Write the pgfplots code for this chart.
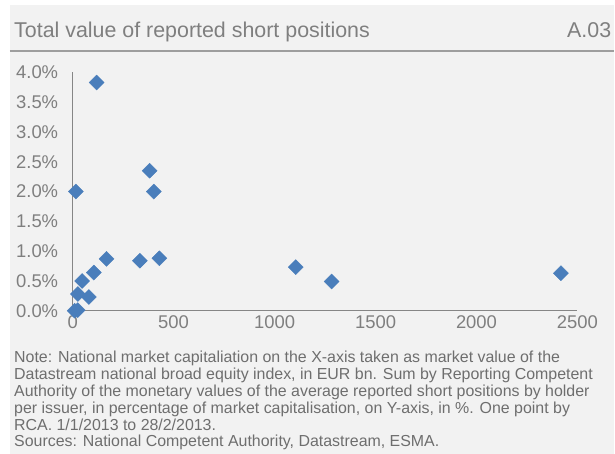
\documentclass[border=0pt]{standalone}
\usepackage{pgfplots}
\pgfplotsset{compat=1.18}
\usepackage{fontspec}
\setmainfont{Liberation Sans}
\definecolor{bgc}{HTML}{F2F2F2}
\definecolor{txt}{HTML}{7F7F7F}
\definecolor{note}{HTML}{6E6E6E}
\definecolor{axc}{HTML}{868686}
\definecolor{mk}{HTML}{4A7EBB}
\begin{document}
\begin{tikzpicture}[x=1bp,y=1bp]
\fill[white] (0,0) rectangle (615,454);
\fill[bgc] (10,0) rectangle (615,449);
\draw[color=axc!80, line width=1.2bp] (10,403) -- (615,403);
\node[anchor=base west, inner sep=0, text=txt, font=\fontsize{21.5}{25}\selectfont] at (14,416) {Total value of reported short positions};
\node[anchor=base east, inner sep=0, text=txt, font=\fontsize{21.5}{25}\selectfont] at (612,416) {A.03};
\begin{axis}[
  at={(72.7bp,143bp)}, anchor=south west,
  scale only axis, width=505.3bp, height=238.5bp,
  xmin=0, xmax=2500, ymin=0, ymax=4,
  axis lines=left, axis line style={-, color=axc, line width=1.5bp},
  xtick={0,500,1000,1500,2000,2500},
  ytick={0,0.5,1,1.5,2,2.5,3,3.5,4},
  yticklabels={0.0\%,0.5\%,1.0\%,1.5\%,2.0\%,2.5\%,3.0\%,3.5\%,4.0\%},
  major tick length=0pt,
  tick label style={text=txt, font=\fontsize{18.5}{20}\selectfont},
  yticklabel style={xshift=-11bp},
  xticklabel style={yshift=-1bp},
  /pgf/number format/assume math mode=true,
  /pgf/number format/1000 sep={},
  scaled x ticks=false,
  clip=false,
]
\addplot[only marks, mark=square*, mark size=5.3bp, mark options={rotate=45, fill=mk, draw=mk}] coordinates {
(10,0.0) (25,0.01) (16,2.00) (119,3.83) (381,2.35) (402,2.00)
(168,0.87) (333,0.84) (430,0.88) (105,0.64) (47,0.50) (26,0.28)
(80,0.23) (1105,0.73) (1283,0.49) (2418,0.63)
};
\end{axis}
\node[anchor=north west, inner sep=0, text=note, align=left, font=\fontsize{16}{17}\selectfont] at (14,103) {Note: National market capitaliation on the X-axis taken as market value of the\\Datastream national broad equity index, in EUR bn. Sum by Reporting Competent\\Authority of the monetary values of the average reported short positions by holder\\per issuer, in percentage of market capitalisation, on Y-axis, in \%. One point by\\RCA. 1/1/2013 to 28/2/2013.\\Sources: National Competent Authority, Datastream, ESMA.};
\end{tikzpicture}
\end{document}
